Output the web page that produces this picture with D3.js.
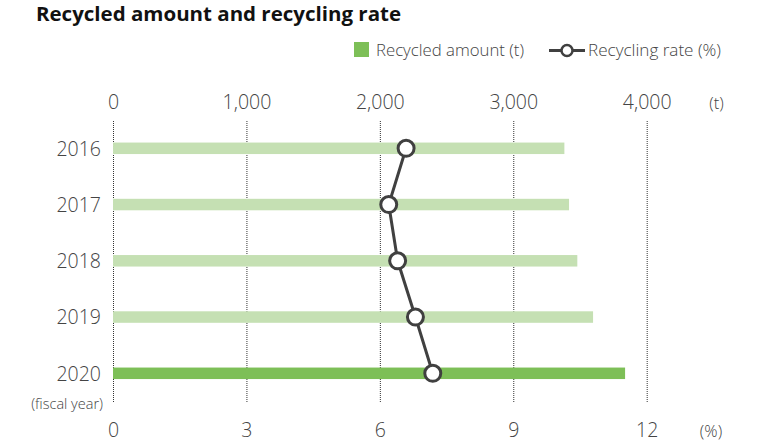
<!DOCTYPE html>
<html><head><meta charset="utf-8">
<script src="https://cdn.jsdelivr.net/npm/d3@7"></script>
<style>
html,body{margin:0;padding:0;background:#fff;}
svg{display:block;font-family:"Open Sans","Noto Sans",sans-serif;}
</style></head>
<body><svg id="c" width="760" height="443"></svg>
<script>
const years = ["2016","2017","2018","2019","2020"];
const amounts = [3383, 3418, 3480, 3598, 3838];
const rates = [6.59, 6.20, 6.40, 6.80, 7.19];
const amountTicks = [0, 1000, 2000, 3000, 4000];
const rateTicks = [0, 3, 6, 9, 12];
const barColors = ["#c5e0b3","#c5e0b3","#c5e0b3","#c5e0b3","#7dbf57"];

const svg = d3.select("#c");
const x0 = 113, x1 = 646.7;
const xA = d3.scaleLinear().domain([0, 4000]).range([x0, x1]);
const xR = d3.scaleLinear().domain([0, 12]).range([x0, x1]);
const y = d3.scalePoint().domain(years).range([148.3, 373.3]);
const textCol = "#444";
const FF = "'Open Sans','Noto Sans',sans-serif";

// title
svg.append("text").attr("x", 36).attr("y", 21).attr("font-size", 19.5).attr("font-weight", 700)
  .attr("fill", "#111").attr("textLength", 365).attr("lengthAdjust", "spacingAndGlyphs")
  .text("Recycled amount and recycling rate");

// legend
svg.append("rect").attr("x", 354).attr("y", 42).attr("width", 15).attr("height", 15).attr("fill", "#7dbf57");
svg.append("text").attr("x", 376).attr("y", 56).attr("font-size", 16).attr("font-weight", 300).attr("fill", textCol)
  .attr("textLength", 148).attr("lengthAdjust", "spacingAndGlyphs").text("Recycled amount (t)");
svg.append("line").attr("x1", 549).attr("x2", 585).attr("y1", 50.5).attr("y2", 50.5).attr("stroke", "#404040").attr("stroke-width", 3);
svg.append("circle").attr("cx", 567).attr("cy", 50.5).attr("r", 5.5).attr("fill", "#fff").attr("stroke", "#404040").attr("stroke-width", 2.5);
svg.append("text").attr("x", 588).attr("y", 56).attr("font-size", 16).attr("font-weight", 300).attr("fill", textCol)
  .attr("textLength", 133).attr("lengthAdjust", "spacingAndGlyphs").text("Recycling rate (%)");

// grid lines
svg.append("g").selectAll("line").data(amountTicks).join("line")
  .attr("x1", d => xA(d) + 0.5).attr("x2", d => xA(d) + 0.5)
  .attr("y1", 121).attr("y2", 403)
  .attr("stroke", "#333").attr("stroke-width", 1).attr("stroke-dasharray", "1,1");

// top axis
const topAxis = d3.axisTop(xA).tickValues(amountTicks).tickFormat(d3.format(",")).tickSize(0).tickPadding(0);
const gt = svg.append("g").attr("transform", "translate(0,109)").call(topAxis);
gt.select(".domain").remove();
gt.selectAll("text").attr("font-size", 19.5).attr("font-weight", 300).attr("fill", textCol).attr("font-family", FF).attr("dy", 0);
svg.append("text").attr("x", 716.5).attr("y", 108.5).attr("text-anchor", "middle").attr("font-size", 16.5).attr("font-weight", 300).attr("fill", textCol).text("(t)");

// bottom axis
const botAxis = d3.axisBottom(xR).tickValues(rateTicks).tickSize(0).tickPadding(0);
const gb = svg.append("g").attr("transform", "translate(0,437)").call(botAxis);
gb.select(".domain").remove();
gb.selectAll("text").attr("font-size", 19.5).attr("font-weight", 300).attr("fill", textCol).attr("font-family", FF).attr("dy", 0);
svg.append("text").attr("x", 711).attr("y", 437).attr("text-anchor", "middle").attr("font-size", 16.5).attr("font-weight", 300).attr("fill", textCol).text("(%)");

// year labels
const yAxis = d3.axisLeft(y).tickSize(0).tickPadding(0);
const gy = svg.append("g").attr("transform", "translate(101,0)").call(yAxis);
gy.select(".domain").remove();
gy.selectAll("text").attr("font-size", 19.5).attr("font-weight", 300).attr("fill", textCol).attr("font-family", FF).attr("dy", "0.35em");
svg.append("text").attr("x", 103).attr("y", 409).attr("text-anchor", "end").attr("font-size", 14.5).attr("font-weight", 300).attr("fill", textCol).text("(fiscal year)");

// bars
const bh = 11.5;
svg.append("g").selectAll("rect").data(years).join("rect")
  .attr("x", xA(0)).attr("y", d => y(d) - bh / 2)
  .attr("width", (d, i) => xA(amounts[i]) - xA(0)).attr("height", bh)
  .attr("fill", (d, i) => barColors[i]);

// line
const pts = years.map((d, i) => [xR(rates[i]), y(d)]);
svg.append("path").attr("d", d3.line()(pts)).attr("fill", "none").attr("stroke", "#404040").attr("stroke-width", 3);
svg.append("g").selectAll("circle").data(pts).join("circle")
  .attr("cx", d => d[0]).attr("cy", d => d[1]).attr("r", 8)
  .attr("fill", "#fff").attr("stroke", "#404040").attr("stroke-width", 3);
</script></body></html>
